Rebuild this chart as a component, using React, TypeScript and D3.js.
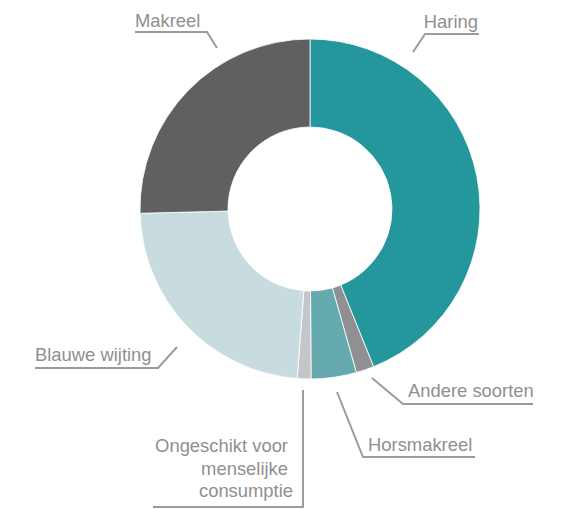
import React from "react";
import * as d3 from "d3";

const categories = ["Haring", "Andere soorten", "Horsmakreel", "Ongeschikt voor menselijke consumptie", "Blauwe wijting", "Makreel"];
const values = [43.9, 1.7, 4.3, 1.3, 23.4, 25.4];
const colors = ["#23979b", "#8e9093", "#65aaae", "#c4c6c8", "#c8dcdf", "#5e6062"];

type Label = { lines: string[]; xs: number[]; y: number; dy: number; anchor: "start" | "end"; path: [number, number][] };
const labels: Label[] = [
  { lines: ["Haring"], xs: [478], y: 28, dy: 0, anchor: "end", path: [[413, 52], [425, 34], [479, 34]] },
  { lines: ["Andere soorten"], xs: [408], y: 397, dy: 0, anchor: "start", path: [[372, 378], [403, 404], [533, 404]] },
  { lines: ["Horsmakreel"], xs: [368], y: 451, dy: 0, anchor: "start", path: [[337, 392], [363, 457], [475, 457]] },
  { lines: ["Ongeschikt voor", "menselijke", "consumptie"], xs: [288, 288, 293], y: 452, dy: 22.5, anchor: "end", path: [[303, 390], [303, 507], [153, 507]] },
  { lines: ["Blauwe wijting"], xs: [35], y: 361, dy: 0, anchor: "start", path: [[177, 347], [158, 368], [35, 368]] },
  { lines: ["Makreel"], xs: [135], y: 27, dy: 0, anchor: "start", path: [[217, 48], [207, 32], [135, 32]] },
];

export default function App() {
  const W = 566, H = 509;
  const cx = 310, cy = 209, R = 170, r = 82;
  const pie = d3.pie<number>().sort(null).value((d) => d)(values);
  const arc = d3.arc<d3.PieArcDatum<number>>().innerRadius(r).outerRadius(R);
  const line = d3.line();
  return (
    <svg width={W} height={H} style={{ position: "absolute", left: 0, top: 0, fontFamily: "'Liberation Sans', Arial, sans-serif" }}>
      <g transform={`translate(${cx},${cy})`}>
        {pie.map((p, i) => (
          <path key={categories[i]} d={arc(p) || ""} fill={colors[i]} stroke="#ffffff" strokeWidth={0.8} />
        ))}
      </g>
      {labels.map((l) => (
        <g key={l.lines[0]}>
          <path d={line(l.path) || ""} fill="none" stroke="#9a9b9d" strokeWidth={2} />
          <text textAnchor={l.anchor} fontSize={18.4} fill="#8f8f8f">
            {l.lines.map((s, k) => (
              <tspan key={k} x={l.xs[k]} y={l.y + k * l.dy}>{s}</tspan>
            ))}
          </text>
        </g>
      ))}
    </svg>
  );
}
